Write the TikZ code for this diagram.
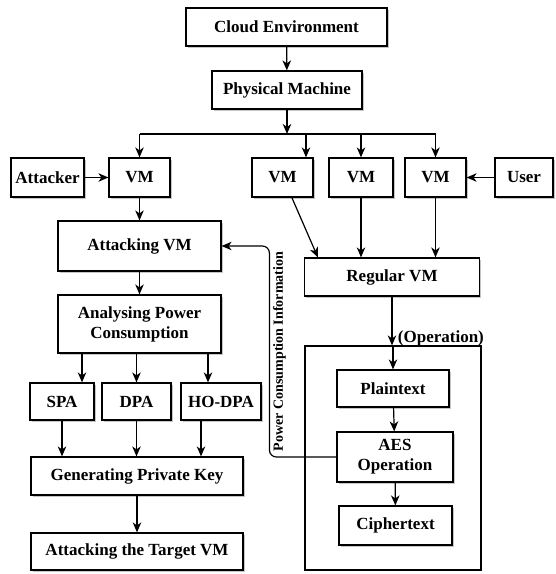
\documentclass[tikz,border=0pt]{standalone}
\usepackage{fontspec}
\setmainfont{Liberation Serif}
\usetikzlibrary{arrows.meta,shadows}

\begin{document}
\begin{tikzpicture}[x=1pt,y=-1pt,
    font=\fontsize{17}{20}\selectfont\bfseries,
    box/.style={draw, line width=1.2pt, fill=white, inner sep=0pt, align=center,
      drop shadow={shadow xshift=1.6pt, shadow yshift=-1.6pt, fill=black!45}},
    arr/.style={-{Stealth[length=10pt,width=8.5pt,inset=3pt]}, line width=1.2pt}]

      \useasboundingbox (0,0) rectangle (556,574);

      % top of the tree
      \node[box, minimum width=201, minimum height=38] (cloud) at (286.5,27) {Cloud Environment};
      \node[box, minimum width=150, minimum height=38] (phys) at (287,90) {Physical Machine};

      % row of vms
      \node[box, minimum width=73, minimum height=39] (attacker) at (47.5,177.5) {Attacker};
      \node[box, minimum width=61, minimum height=39] (vma) at (139.5,177.5) {VM};
      \node[box, minimum width=61, minimum height=39] (vmb) at (282.5,177.5) {VM};
      \node[box, minimum width=64, minimum height=39] (vmc) at (361,177.5) {VM};
      \node[box, minimum width=61, minimum height=39] (vmd) at (435.5,177.5) {VM};
      \node[box, minimum width=58, minimum height=39] (user) at (524,177.5) {User};

      % attacker side
      \node[box, minimum width=163, minimum height=50] (attvm) at (139.5,246) {Attacking VM};
      \node[box, minimum width=163, minimum height=58] (analyse) at (139.5,324) {Analysing Power\\Consumption};
      \node[box, minimum width=64, minimum height=37] (spa) at (62,401.5) {SPA};
      \node[box, minimum width=69, minimum height=37] (dpa) at (136.5,401.5) {DPA};
      \node[box, minimum width=80, minimum height=37] (hodpa) at (221,401.5) {HO-DPA};
      \node[box, minimum width=212, minimum height=38] (genkey) at (137,476) {Generating Private Key};
      \node[box, minimum width=212, minimum height=37] (target) at (137,551.5) {Attacking the Target VM};

      % user side
      \node[box, minimum width=175, minimum height=38] (regvm) at (392,277) {Regular VM};
      \node[draw, line width=1.2pt, minimum width=176, minimum height=224] (opbox) at (393,458) {};
      \node[box, minimum width=112, minimum height=37] (plain) at (393,388.5) {Plaintext};
      \node[box, minimum width=116, minimum height=50] (aes) at (395,457) {AES\\Operation};
      \node[box, minimum width=113, minimum height=39] (cipher) at (395.5,525.5) {Ciphertext};

      \coordinate (busl) at (139.5,134);
      \coordinate (busr) at (435.5,134);
      \coordinate (dropb) at (306,134);

      \draw[arr] (cloud) -- (phys);
      \draw[arr] (phys.south) -- (phys.south |- busl);
      \draw[line width=1.2pt] (busl) -- (busr);
      \draw[arr] (busl) -- (vma.north);
      \draw[arr] (dropb) -- (dropb |- vmb.north);
      \draw[arr] (vmc.north |- busl) -- (vmc.north);
      \draw[arr] (busr) -- (vmd.north);

      \draw[arr] (attacker) -- (vma);
      \draw[arr] (user) -- (vmd);

      \draw[arr] (vma) -- (attvm);
      \draw[arr] (attvm) -- (analyse);
      \draw[arr] ([xshift=20pt]spa.north |- analyse.south) -- ([xshift=20pt]spa.north);
      \draw[arr] (dpa.north |- analyse.south) -- (dpa.north);
      \draw[arr] ([xshift=-13pt]hodpa.north |- analyse.south) -- ([xshift=-13pt]hodpa.north);
      \draw[arr] (spa.south) -- (spa.south |- genkey.north);
      \draw[arr] (dpa.south) -- (dpa.south |- genkey.north);
      \draw[arr] ([xshift=-20pt]hodpa.south) -- ([xshift=-20pt]hodpa.south |- genkey.north);
      \draw[arr] (genkey) -- (target);

      \draw[arr] (vmb.-65) -- ([xshift=14pt]regvm.north west);
      \draw[arr] (vmc.south) -- (vmc.south |- regvm.north);
      \draw[arr] (vmd.south) -- (vmd.south |- regvm.north);
      \draw[arr] (regvm.south) -- (regvm.south |- opbox.north) node[anchor=west, xshift=2pt, yshift=7pt] {(Operation)};
      \draw[arr] (plain.north |- opbox.north) -- (plain.north);
      \draw[arr] (plain) -- (aes);
      \draw[arr] (aes) -- (cipher);

      % leak back to the attacker
      \draw[arr, rounded corners=7pt] (aes.west) -- ++(-67,0) |- (attvm.east)
        node[pos=0.25, rotate=90, anchor=north, inner sep=3pt, font=\fontsize{14}{16}\selectfont\bfseries] {Power Consumption Information};

\end{tikzpicture}
\end{document}
